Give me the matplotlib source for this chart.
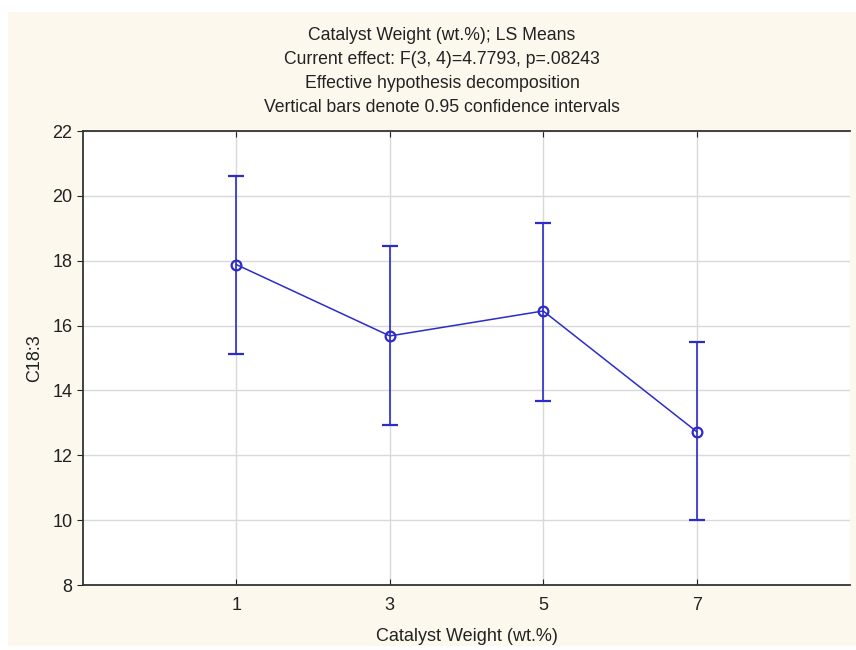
import numpy as np
import matplotlib.pyplot as plt
from matplotlib.patches import Rectangle

plt.rcParams['font.family'] = ['Liberation Sans', 'DejaVu Sans']

weights = [1, 3, 5, 7]
means = [17.88, 15.68, 16.45, 12.73]
upper = [20.62, 18.45, 19.17, 15.50]
lower = [15.12, 12.93, 13.68, 10.00]

title = ('Catalyst Weight (wt.%); LS Means\n'
         'Current effect: F(3, 4)=4.7793, p=.08243\n'
         'Effective hypothesis decomposition\n'
         'Vertical bars denote 0.95 confidence intervals')

means = np.array(means)
err = np.array([means - np.array(lower), np.array(upper) - means])

fig = plt.figure(figsize=(8.56, 6.5), dpi=100, facecolor='white')
fig.add_artist(Rectangle((8 / 856, 4 / 650), 848 / 856, 634 / 650,
                         transform=fig.transFigure, facecolor='#FCF8EE',
                         edgecolor='none', zorder=-10))
ax = fig.add_axes([83 / 856, 65 / 650, 767 / 856, 454 / 650])
ax.set_zorder(1)
ax.set_facecolor('white')

line_col = '#2C2CC8'
ax.errorbar(weights, means, yerr=err, color=line_col, lw=1.1, elinewidth=1.2,
            capsize=5.5, capthick=1.2, marker='o', markersize=7,
            markerfacecolor='none', markeredgewidth=1.6, zorder=3)

ax.set_xlim(-1, 9)
ax.set_ylim(8, 22)
ax.set_xticks(weights)
ax.set_yticks(np.arange(8, 23, 2))
ax.grid(True, color='#D9D9D9', lw=1)
ax.set_axisbelow(True)

for s in ax.spines.values():
    s.set_color('#333333')
    s.set_linewidth(1.3)
ax.spines['right'].set_visible(False)

ax.tick_params(axis='y', direction='out', length=4, labelsize=13, colors='#222222')
ax.tick_params(axis='x', direction='in', length=4, labelsize=13, colors='#222222',
               pad=9, top=True)

ax.set_xlabel('Catalyst Weight (wt.%)', fontsize=13, color='#222222', labelpad=10)
ax.set_ylabel('C18:3', fontsize=13, color='#222222', labelpad=7)
ax.set_title(title, fontsize=12.7, color='#222222', linespacing=1.53, pad=14, x=0.468)

plt.savefig('out.png', dpi=100, facecolor=fig.get_facecolor())
